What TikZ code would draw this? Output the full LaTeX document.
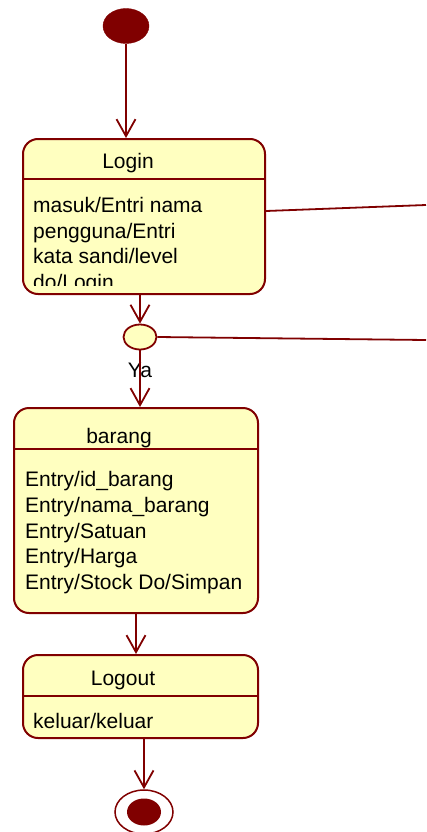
\documentclass[tikz,border=0pt]{standalone}
\usepackage{fontspec}
\setmainfont{Liberation Sans}
\usetikzlibrary{arrows.meta,shapes.geometric}
\definecolor{umlred}{HTML}{800000}
\definecolor{umlfill}{HTML}{FFFFC0}
\begin{document}
\begin{tikzpicture}[x=1pt,y=-1pt,
  statebox/.style={draw=umlred, fill=umlfill, line width=2pt, rounded corners=15pt, anchor=north west, inner sep=0pt},
  divider/.style={draw=umlred, line width=2pt},
  conn/.style={draw=umlred, line width=1.8pt, -{Straight Barb[length=17pt,width=19pt,line width=1.8pt]}},
  plain/.style={draw=umlred, line width=1.8pt},
  txt/.style={anchor=base west, inner sep=0pt, font=\fontsize{21}{24}\selectfont},
  ttl/.style={anchor=base, inner sep=0pt, font=\fontsize{21}{24}\selectfont}]
\useasboundingbox (0,0) rectangle (426,832);
% initial state
\node[ellipse, draw=umlred, fill=umlred, minimum width=46pt, minimum height=35pt, inner sep=0pt] (init) at (126,26) {};
% Login
\node[statebox, minimum width=242pt, minimum height=155pt] (login) at (22,138) {};
\coordinate (loginDivL) at (22,179);
\coordinate (loginDivR) at (266,179);
\draw[divider] (loginDivL) -- (loginDivR);
\node[ttl] (loginT) at (128,168) {Login};
\begin{scope}
\clip (22,180) rectangle (264,285);
\node[txt] (l1) at (33,212) {masuk/Entri nama};
\node[txt] (l2) at (33,238) {pengguna/Entri};
\node[txt] (l3) at (33,263) {kata sandi/level};
\node[txt] (l4) at (33,289) {do/Login};
\end{scope}
% choice
\node[ellipse, draw=umlred, fill=umlfill, line width=1.8pt, minimum width=33pt, minimum height=25pt, inner sep=0pt] (choice) at (140,337) {};
\node[ttl] (ya) at (140,377) {Ya};
% barang
\node[statebox, minimum width=244pt, minimum height=205pt] (barang) at (13,407) {};
\coordinate (barDivL) at (13,449);
\coordinate (barDivR) at (259,449);
\draw[divider] (barDivL) -- (barDivR);
\node[ttl] (barangT) at (119,443) {barang};
\node[txt] (b1) at (25,486) {Entry/id\_barang};
\node[txt] (b2) at (25,512) {Entry/nama\_barang};
\node[txt] (b3) at (25,538) {Entry/Satuan};
\node[txt] (b4) at (25,563) {Entry/Harga};
\node[txt] (b5) at (25,589) {Entry/Stock Do/Simpan};
% Logout
\node[statebox, minimum width=235pt, minimum height=83pt] (logout) at (22,654) {};
\coordinate (loDivL) at (22,696);
\coordinate (loDivR) at (259,696);
\draw[divider] (loDivL) -- (loDivR);
\node[ttl] (logoutT) at (123,685) {Logout};
\node[txt] (lo1) at (33,728) {keluar/keluar};
% final state
\node[ellipse, draw=umlred, fill=white, line width=1.5pt, minimum width=58pt, minimum height=44pt, inner sep=0pt] (final) at (144,812) {};
\node[ellipse, fill=umlred, minimum width=34pt, minimum height=27pt, inner sep=0pt] (finalIn) at (144,812) {};
% connectors
\draw[conn] (init.south) -- (init.south |- login.north);
\draw[conn] (choice.north |- login.south) -- (choice.north);
\draw[conn] (choice.south) -- (choice.south |- barang.north);
\draw[conn] (barang.south) -- (barang.south |- logout.north);
\draw[conn] (final.north |- logout.south) -- (final.north);
\coordinate (loginOut) at (426,205);
\coordinate (choiceOut) at (426,340);
\draw[plain] (login.east |- 0,211) -- (loginOut);
\draw[plain] (choice.east) -- (choiceOut);
\end{tikzpicture}
\end{document}
